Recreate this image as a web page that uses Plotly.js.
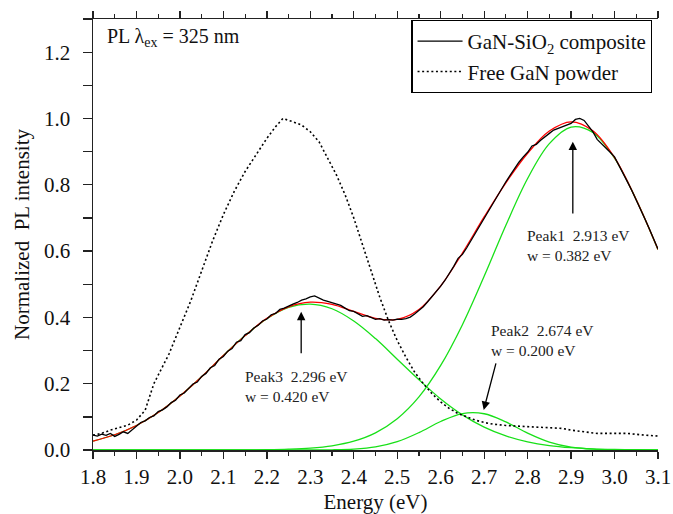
<!DOCTYPE html>
<html>
<head>
<meta charset="utf-8">
<script src="https://cdn.plot.ly/plotly-3.0.1.min.js"></script>
<style>html,body{margin:0;padding:0;background:#fff;}#chart{width:673px;height:514px;}</style>
</head>
<body>
<div id="chart"></div>
<script>
// ---- Composite (black, noisy) ----
const energyFine = [1.80,1.81,1.82,1.83,1.84,1.85,1.86,1.87,1.88,1.89,1.90,1.91,1.92,1.93,1.94,1.95,1.96,1.97,1.98,1.99,
2.00,2.01,2.02,2.03,2.04,2.05,2.06,2.07,2.08,2.09,2.10,2.11,2.12,2.13,2.14,2.15,2.16,2.17,2.18,2.19,
2.20,2.21,2.22,2.23,2.24,2.25,2.26,2.27,2.28,2.29,2.30,2.31,2.32,2.33,2.34,2.35,2.36,2.37,2.38,2.39,
2.40,2.41,2.42,2.43,2.44,2.45,2.46,2.47,2.48,2.49,2.50,2.51,2.52,2.53,2.54,2.55,2.56,2.57,2.58,2.59,
2.60,2.61,2.62,2.63,2.64,2.65,2.66,2.67,2.68,2.69,2.70,2.71,2.72,2.73,2.74,2.75,2.76,2.77,2.78,2.79,
2.80,2.81,2.82,2.83,2.84,2.85,2.86,2.87,2.88,2.89,2.90,2.91,2.92,2.93,2.94,2.95,2.96,2.97,2.98,2.99,
3.00,3.01,3.02,3.03,3.04,3.05,3.06,3.07,3.08,3.09,3.10];
const composite = [.045,.042,.048,.044,.050,.041,.047,.055,.050,.062,.072,.083,.088,.098,.103,.116,.121,.130,.143,.150,
.166,.172,.186,.199,.205,.222,.231,.248,.255,.274,.282,.298,.306,.325,.330,.348,.354,.368,.376,.389,
.395,.408,.412,.424,.428,.435,.440,.445,.452,.456,.462,.465,.458,.452,.448,.444,.440,.436,.428,.420,
.418,.410,.403,.405,.399,.394,.396,.392,.393,.392,.395,.394,.396,.401,.410,.421,.432,.447,.463,.476,
.494,.512,.532,.554,.578,.590,.610,.632,.654,.676,.698,.722,.744,.766,.790,.809,.829,.849,.868,.884,
.898,.917,.922,.934,.946,.955,.965,.970,.975,.978,.985,.997,1.000,.994,.978,.960,.937,.925,.912,.898,
.884,.860,.834,.808,.782,.755,.727,.697,.667,.636,.606];

// ---- Fit curves (red sum, green peaks) ----
const energyFit = [1.80,1.85,1.90,1.95,2.00,2.05,2.10,2.15,2.20,2.25,2.30,2.35,2.40,2.45,2.50,2.55,2.60,2.65,2.70,2.75,2.80,2.85,2.90,2.95,3.00,3.05,3.10];
const fitSum = [.027,.046,.074,.113,.163,.221,.285,.345,.397,.432,.446,.439,.418,.397,.394,.424,.495,.594,.703,.806,.895,.962,.990,.963,.882,.755,.605];
const peak1 = [0,0,0,0,0,0,.0001,.0003,.0009,.0024,.0057,.0127,.0265,.0517,.0942,.160,.255,.378,.524,.678,.819,.924,.974,.958,.880,.755,.604];
const peak2 = [0,0,0,0,0,0,0,0,0,0,.0001,.0006,.0027,.0092,.0249,.0524,.0859,.1098,.1093,.0847,.0511,.024,.0088,.0025,.0006,.0001,0];
const peak3 = [.027,.046,.074,.113,.163,.221,.285,.345,.396,.430,.440,.426,.389,.336,.274,.212,.154,.106,.069,.0425,.0247,.0135,.007,.0034,.0016,.0007,.0003];

// ---- Free GaN powder (dotted) ----
const powderE = [1.80,1.82,1.84,1.86,1.88,1.90,1.92,1.94,1.95,1.975,2.00,2.025,2.05,2.075,2.10,2.125,2.15,2.175,2.20,2.22,2.237,
2.26,2.28,2.30,2.32,2.34,2.36,2.38,2.40,2.42,2.44,2.46,2.48,2.50,2.52,2.54,2.56,2.58,2.60,2.62,2.64,2.66,2.68,2.70,2.72,2.75,
2.80,2.85,2.88,2.90,2.93,2.96,3.00,3.03,3.06,3.10];
const powderI = [.045,.05,.06,.068,.075,.09,.12,.20,.225,.29,.37,.45,.54,.63,.71,.78,.84,.89,.94,.975,1.0,
.99,.98,.96,.93,.88,.83,.77,.70,.62,.54,.46,.39,.33,.28,.235,.20,.17,.145,.125,.11,.10,.09,.083,.078,.074,
.071,.068,.065,.06,.055,.05,.05,.05,.046,.042];

// ---- Labels ----
const xTitle = 'Energy (eV)';
const yTitle = 'Normalized\u00a0\u00a0PL intensity';
const legendNames = ['GaN-SiO<sub>2</sub> composite', 'Free GaN powder'];
const conditionText = 'PL \u03bb<sub>ex</sub> = 325 nm';
const peakLabels = ['Peak1\u00a0\u00a02.913 eV<br>w = 0.382 eV', 'Peak2\u00a0\u00a02.674 eV<br>w = 0.200 eV', 'Peak3\u00a0\u00a02.296 eV<br>w = 0.420 eV'];

const FONT = 'Liberation Serif';
const GREEN = '#18e018';

const traces = [
  {x: energyFit, y: peak1, mode:'lines', line:{color:GREEN, width:1.3, shape:'spline'}, showlegend:false, hoverinfo:'skip'},
  {x: energyFit, y: peak2, mode:'lines', line:{color:GREEN, width:1.3, shape:'spline'}, showlegend:false, hoverinfo:'skip'},
  {x: energyFit, y: peak3, mode:'lines', line:{color:GREEN, width:1.3, shape:'spline'}, showlegend:false, hoverinfo:'skip'},
  {x: powderE, y: powderI, mode:'lines', name: legendNames[1], line:{color:'#000', width:1.6, dash:'2px,2.6px'}, legendrank:2},
  {x: energyFit, y: fitSum, mode:'lines', line:{color:'#ff0000', width:1.3, shape:'spline'}, showlegend:false, hoverinfo:'skip'},
  {x: energyFine, y: composite, mode:'lines', name: legendNames[0], line:{color:'#000', width:1.3}, legendrank:1}
];

const ann = [
  {xref:'x', yref:'y', x:1.828, y:1.243, text: conditionText, showarrow:false, xanchor:'left', yanchor:'middle', font:{size:20, color:'#111', family:FONT}},
  {xref:'x', yref:'y', x:2.795, y:0.617, text: peakLabels[0], showarrow:false, xanchor:'left', yanchor:'middle', align:'left', font:{size:15.5, color:'#222', family:FONT}},
  {xref:'x', yref:'y', x:2.710, y:0.329, text: peakLabels[1], showarrow:false, xanchor:'left', yanchor:'middle', align:'left', font:{size:15.5, color:'#222', family:FONT}},
  {xref:'x', yref:'y', x:2.144, y:0.193, text: peakLabels[2], showarrow:false, xanchor:'left', yanchor:'middle', align:'left', font:{size:15.5, color:'#222', family:FONT}},
  {xref:'x', yref:'y', axref:'x', ayref:'y', x:2.904, y:0.930, ax:2.904, ay:0.709, text:'', showarrow:true, arrowhead:2, arrowsize:1.3, arrowwidth:1.3, arrowcolor:'#000'},
  {xref:'x', yref:'y', axref:'x', ayref:'y', x:2.279, y:0.417, ax:2.279, ay:0.287, text:'', showarrow:true, arrowhead:2, arrowsize:1.3, arrowwidth:1.3, arrowcolor:'#000'},
  {xref:'x', yref:'y', axref:'x', ayref:'y', x:2.699, y:0.121, ax:2.728, ay:0.266, text:'', showarrow:true, arrowhead:2, arrowsize:1.3, arrowwidth:1.3, arrowcolor:'#000'}
];

const layout = {
  width:673, height:514,
  margin:{l:93, r:15, t:19, b:64},
  paper_bgcolor:'#fff', plot_bgcolor:'#fff',
  font:{family:FONT, size:20, color:'#111'},
  showlegend:true,
  legend:{x:0.99, y:0.998, xanchor:'right', yanchor:'top', bgcolor:'#fff', bordercolor:'#000', borderwidth:1.2,
          font:{size:21, family:FONT, color:'#111'}, itemwidth:45, tracegroupgap:0, traceorder:'normal'},
  xaxis:{range:[1.8,3.1], dtick:0.1, tick0:1.8, tickformat:'.1f', ticks:'outside', ticklen:7, tickwidth:1.3, tickcolor:'#222',
         minor:{dtick:0.05, ticks:'outside', ticklen:4, tickwidth:1.2, tickcolor:'#222'},
         showline:true, linecolor:'#222', linewidth:1.5, mirror:'ticks', showgrid:false, zeroline:false,
         layer:'below traces', tickfont:{size:21, family:FONT, color:'#111'},
         title:{text:xTitle, font:{size:21, family:FONT, color:'#111'}, standoff:8}},
  yaxis:{range:[0,1.3], dtick:0.2, tick0:0, tickformat:'.1f', ticks:'outside', ticklen:9, tickwidth:1.3, tickcolor:'#222',
         minor:{dtick:0.1, ticks:'outside', ticklen:9, tickwidth:1.3, tickcolor:'#222'},
         showline:true, linecolor:'#222', linewidth:1.5, showgrid:false, zeroline:false, ticklabelstandoff:8,
         layer:'below traces', tickfont:{size:21, family:FONT, color:'#111'},
         title:{text:yTitle, font:{size:21, family:FONT, color:'#111'}, standoff:8}},
  yaxis2:{range:[0,1.3], overlaying:'y', side:'right', dtick:0.1, ticks:'inside', ticklen:5, tickwidth:1.2, tickcolor:'#222',
          showticklabels:false, showline:true, linecolor:'#222', linewidth:1.5, showgrid:false, zeroline:false},
  annotations: ann
};

Plotly.newPlot('chart', traces, layout, {displayModeBar:false, staticPlot:true});
</script>
</body>
</html>
